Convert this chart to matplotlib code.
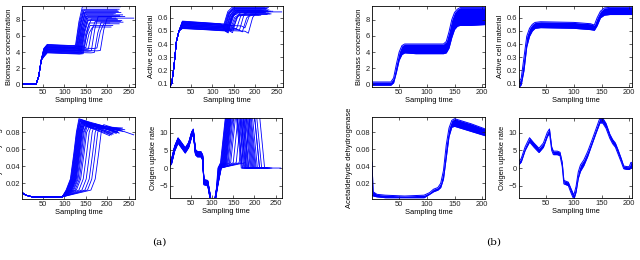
import matplotlib
matplotlib.use('Agg')
import matplotlib.pyplot as plt

plt.rcParams['font.family'] = 'Liberation Sans'

# ---------- (a): 24 runs, second growth phase starts at different times ----------
switch_a = [126, 127, 128, 129, 130, 131, 132, 133, 134, 135, 136, 137,
            138, 139, 140, 142, 144, 147, 150, 156, 163, 170, 176, 184]
run_end = [231, 228, 225, 232, 222, 219, 236, 226, 230, 214, 220, 229,
           234, 210, 224, 206, 213, 223, 209, 231, 241, 237, 228, 262]

bio_plat = [4.95, 4.9, 4.8, 4.75, 4.7, 4.6, 4.55, 4.5, 4.4, 4.35, 4.3, 4.2,
            4.15, 4.1, 4.0, 3.95, 3.9, 4.85, 4.65, 4.45, 4.25, 4.05, 4.6, 4.3]
bio_final = [9.6, 9.3, 9.1, 8.9, 9.2, 8.8, 8.6, 9.0, 8.4, 8.7, 8.2, 8.5,
             7.9, 8.3, 8.0, 7.6, 7.3, 8.1, 7.1, 7.8, 8.4, 7.7, 7.5, 8.2]

act_plat = [0.575, 0.57, 0.565, 0.56, 0.555, 0.55, 0.545, 0.54, 0.535, 0.53, 0.525, 0.52,
            0.572, 0.562, 0.552, 0.542, 0.532, 0.522, 0.568, 0.548, 0.538, 0.528, 0.558, 0.518]
act_final = [0.68, 0.67, 0.665, 0.66, 0.675, 0.655, 0.65, 0.67, 0.645, 0.66, 0.64, 0.655,
             0.63, 0.65, 0.64, 0.625, 0.62, 0.645, 0.62, 0.635, 0.65, 0.63, 0.625, 0.645]

acet_peak = [0.096, 0.095, 0.094, 0.093, 0.095, 0.092, 0.091, 0.094, 0.09, 0.093, 0.089, 0.092,
             0.088, 0.091, 0.09, 0.087, 0.088, 0.09, 0.086, 0.089, 0.09, 0.088, 0.087, 0.089]
acet_last = [0.082, 0.083, 0.08, 0.084, 0.079, 0.081, 0.085, 0.08, 0.083, 0.078, 0.079, 0.082,
             0.084, 0.077, 0.081, 0.076, 0.078, 0.08, 0.077, 0.082, 0.083, 0.081, 0.079, 0.077]

our_t = [1, 5, 12, 20, 28, 37, 45, 52, 56, 61, 66, 74, 78, 81, 90, 94, 98, 106, 110]
our_y = [1.3, 2.0, 5.5, 7.8, 6.5, 5.0, 6.5, 9.5, 10.3, 4.5, 3.9, 3.9, 3.0, -4.0, -4.3, -7.0, -10.0, -10.0, -7.0]
our_off = [0.8, -0.7, 0.5, -0.4, 0.2, -0.2, 0.6, -0.6, 0.0, 0.35, -0.35, 0.7,
           -0.8, 0.1, -0.1, 0.45, -0.45, 0.25, -0.25, 0.55, -0.55, 0.15, -0.15, 0.4]
our_zero1 = [114, 115, 115, 116, 117, 117, 118, 118, 119, 119, 120, 120,
             121, 121, 122, 120, 121, 119, 120, 122, 118, 121, 120, 119]
our_down = [175, 160, 168, 182, 157, 190, 165, 172, 200, 163, 178, 186,
            170, 159, 195, 180, 167, 188, 174, 184, 192, 200, 205, 212]

# ---------- (b): runs are nearly identical -> envelopes ----------
bio_b_t = [1, 35, 40, 45, 50, 55, 60, 80, 130, 135, 140, 145, 150, 155, 160, 180, 205]
bio_b_lo = [-0.1, -0.1, 0.2, 1.5, 3.0, 3.7, 3.9, 3.8, 3.8, 3.9, 4.5, 5.8, 6.8, 7.2, 7.3, 7.3, 7.4]
bio_b_hi = [0.3, 0.3, 0.8, 2.5, 4.0, 4.8, 5.0, 5.0, 5.0, 5.3, 6.5, 8.0, 8.9, 9.3, 9.5, 9.5, 9.5]

act_b_t = [1, 5, 10, 15, 20, 25, 30, 40, 100, 130, 137, 142, 148, 155, 165, 205]
act_b_lo = [0.07, 0.09, 0.2, 0.38, 0.46, 0.5, 0.52, 0.525, 0.52, 0.51, 0.505, 0.54, 0.6, 0.62, 0.625, 0.625]
act_b_hi = [0.11, 0.14, 0.3, 0.46, 0.52, 0.55, 0.565, 0.57, 0.565, 0.555, 0.545, 0.6, 0.65, 0.675, 0.68, 0.68]

acet_b_t = [1, 3, 10, 25, 60, 95, 105, 112, 120, 125, 130, 135, 140, 145, 150, 160, 180, 205]
acet_b_lo = [0.006, 0.005, 0.004, 0.003, 0.003, 0.003, 0.007, 0.010, 0.012, 0.015, 0.025, 0.05,
             0.075, 0.086, 0.087, 0.085, 0.081, 0.076]
acet_b_hi = [0.045, 0.010, 0.007, 0.006, 0.005, 0.006, 0.009, 0.013, 0.015, 0.02, 0.035, 0.065,
             0.085, 0.094, 0.096, 0.094, 0.090, 0.084]

our_b_t = [1, 5, 12, 20, 28, 37, 45, 52, 56, 60, 63, 70, 75, 79, 82, 90, 95, 100, 104, 108, 112,
           118, 125, 132, 140, 147, 152, 158, 165, 170, 175, 180, 186, 190, 196, 200, 203, 205]
our_b_c = [1.5, 2.2, 5.5, 8.0, 6.5, 5.0, 6.5, 9.5, 10.5, 5.5, 4.3, 4.3, 4.0, 1.0, -4.0, -4.5, -6.5,
           -8.3, -6.0, -2.0, 0.0, 1.5, 4.0, 7.0, 10.5, 13.5, 13.5, 12.0, 9.0, 7.5, 6.5, 4.5, 2.0,
           0.2, 0.0, 0.0, 0.8, 0.8]
our_b_w = [0.5, 0.5, 0.5, 0.6, 0.6, 0.6, 0.6, 0.6, 0.6, 0.5, 0.5, 0.5, 0.5, 0.6, 0.5, 0.5, 0.6,
           0.6, 0.8, 0.9, 0.9, 0.8, 0.7, 0.6, 0.6, 0.7, 0.7, 0.7, 0.6, 0.6, 0.6, 0.6, 0.5,
           0.4, 0.4, 0.4, 0.8, 0.8]

BLUE = '#0000ff'
W, H = 640, 260


def box(x0, y0, x1, y1):
    return [x0 / W, 1 - y1 / H, (x1 - x0) / W, (y1 - y0) / H]


def style(ax, xlim, xticks, ylim, yticks, ylabel):
    ax.set_xlim(xlim)
    ax.set_ylim(ylim)
    ax.set_xticks(xticks)
    ax.set_yticks(yticks)
    ax.tick_params(direction='in', length=2, width=0.5, labelsize=5.4, pad=1.5,
                   top=True, right=True, colors='#222222')
    for s in ax.spines.values():
        s.set_linewidth(0.6)
    ax.set_xlabel('Sampling time', fontsize=5.4, labelpad=1)
    ax.set_ylabel(ylabel, fontsize=5.4, labelpad=2)


fig = plt.figure(figsize=(6.4, 2.6), dpi=100)

xa, xta = (1, 265), [50, 100, 150, 200, 250]
xb, xtb = (1, 205), [50, 100, 150, 200]
lim_bio, tk_bio = (-0.32, 9.7), [0, 2, 4, 6, 8]
lim_act, tk_act = (0.073, 0.69), [0.1, 0.2, 0.3, 0.4, 0.5, 0.6]
lim_ace, tk_ace = (0.0015, 0.098), [0.02, 0.04, 0.06, 0.08]
lim_our, tk_our = (-8.5, 14.2), [-5, 0, 5, 10]

# (a) biomass
ax = fig.add_axes(box(22, 6, 135, 87))
for i in range(len(switch_a)):
    sw, p, f = switch_a[i], bio_plat[i], bio_final[i]
    x = [1, 34, 40, 46, 52, 60, sw - 8, sw, sw + 8, sw + 16, run_end[i]]
    y = [0.05, 0.05, 1.0, 3.0, p - 0.5, p, p - 0.15, p - 0.1, (p + f) / 2 + 0.5, f, f]
    ax.plot(x, y, color=BLUE, lw=0.6)
style(ax, xa, xta, lim_bio, tk_bio, 'Biomass concentration')

# (a) active cell material
ax = fig.add_axes(box(170, 6, 283, 87))
for i in range(len(switch_a)):
    sw, p, f = switch_a[i], act_plat[i], act_final[i]
    x = [1, 5, 10, 16, 22, 30, sw - 8, sw, sw + 10, sw + 20, run_end[i]]
    y = [0.08, 0.1, 0.22, 0.42, 0.5, p, p - 0.02, p - 0.035, (p + f) / 2 + 0.02, f, f]
    ax.plot(x, y, color=BLUE, lw=0.6)
style(ax, xa, xta, lim_act, tk_act, 'Active cell material')

# (a) acetaldehyde dehydrogenase
ax = fig.add_axes(box(22, 117, 135, 199))
for i in range(len(switch_a)):
    mid, pk = switch_a[i] - 4, acet_peak[i]
    x = [1, 10, 25, 95, mid - 18, mid - 8, mid, mid + 6, mid + 12, mid + 30, run_end[i]]
    y = [0.009, 0.006, 0.004, 0.004, 0.012, 0.025, 0.055, 0.08, pk, pk - 0.003, acet_last[i]]
    ax.plot(x, y, color=BLUE, lw=0.6)
style(ax, xa, xta, lim_ace, tk_ace, 'Acetaldehyde dehydrogenase')

# (a) oxygen uptake rate
ax = fig.add_axes(box(170, 118, 282, 198))
for i in range(len(switch_a)):
    sw, dn = switch_a[i], our_down[i]
    x = our_t + [our_zero1[i], sw - 6, sw + 6, dn, dn + 12, run_end[i]]
    y = [v + our_off[i] for v in our_y] + [0, 1.5, 15, 15, 0, 0]
    ax.plot(x, y, color=BLUE, lw=0.6)
style(ax, xa, xta, lim_our, tk_our, 'Oxigen uptake rate')


def band(ax, t, lo, hi):
    ax.fill_between(t, lo, hi, color=BLUE, lw=0)
    ax.plot(t, lo, color=BLUE, lw=0.7)
    ax.plot(t, hi, color=BLUE, lw=0.7)


# (b)
ax = fig.add_axes(box(372, 6, 485, 87))
band(ax, bio_b_t, bio_b_lo, bio_b_hi)
style(ax, xb, xtb, lim_bio, tk_bio, 'Biomass concentration')

ax = fig.add_axes(box(519, 6, 632, 87))
band(ax, act_b_t, act_b_lo, act_b_hi)
style(ax, xb, xtb, lim_act, tk_act, 'Active cell material')

ax = fig.add_axes(box(372, 117, 485, 199))
band(ax, acet_b_t, acet_b_lo, acet_b_hi)
style(ax, xb, xtb, lim_ace, tk_ace, 'Acetaldehyde dehydrogenase')

ax = fig.add_axes(box(519, 118, 632, 198))
band(ax, our_b_t, [c - w for c, w in zip(our_b_c, our_b_w)],
     [c + w for c, w in zip(our_b_c, our_b_w)])
style(ax, xb, xtb, lim_our, tk_our, 'Oxigen uptake rate')

fig.text(159 / W, 1 - 242 / H, '(a)', family='DejaVu Serif', fontsize=7.5, ha='center', va='center')
fig.text(494 / W, 1 - 242 / H, '(b)', family='DejaVu Serif', fontsize=7.5, ha='center', va='center')

fig.savefig('out.png', dpi=100)
